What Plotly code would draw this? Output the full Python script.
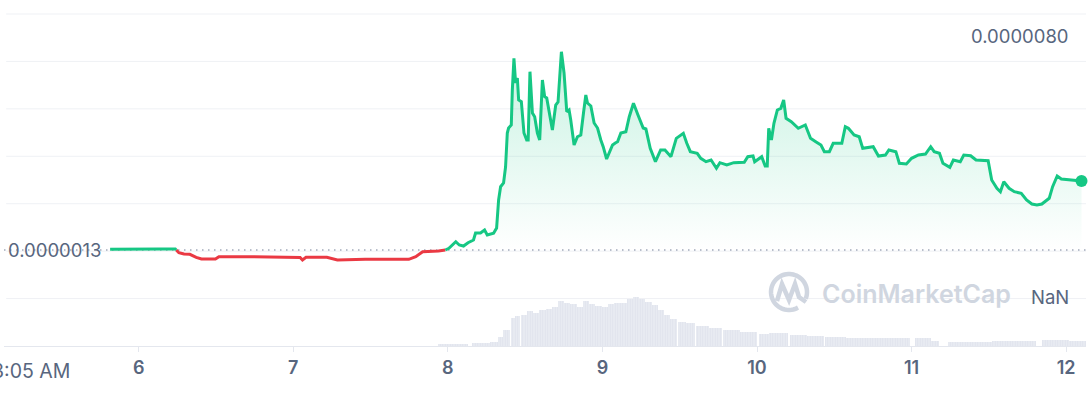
import numpy as np
import pandas as pd
import plotly.graph_objects as go

# ---------------- data ----------------
START = pd.Timestamp("2024-03-05 00:00")          # day "5", midnight
RANGE_HOURS = [3 + 5 / 60, 171 + 5 / 60]         # 3:05 AM on the 5th -> 3:05 AM on the 12th

price_hours = [
    19.56, 24.16, 25.71, 27.27, 29.68, 30.23, 31.03, 31.94, 32.93, 33.74,
    35.91, 36.45, 40.23, 45.63, 49.06, 49.43, 49.98, 53.21, 54.85, 59.17,
    61.87, 65.93, 67.02, 68.09, 70.54, 71.61, 72.16, 73.23, 73.77, 74.43,
    75.13, 75.98, 76.30, 77.07, 77.70, 78.12, 79.10, 79.57, 79.88, 80.19,
    80.65, 80.96, 81.23, 81.43, 81.85, 82.01, 82.26, 82.52, 82.79, 82.99,
    83.41, 83.82, 84.24, 84.47, 84.75, 85.13, 85.48, 85.90, 86.26, 86.68,
    87.03, 87.35, 87.70, 88.23, 88.75, 89.11, 89.63, 90.04, 90.46, 90.82,
    91.08, 91.60, 92.12, 92.64, 93.06, 93.42, 93.68, 94.20, 94.71, 95.24,
    95.75, 96.12, 96.65, 97.04, 97.57, 98.00, 98.35, 98.86, 99.64, 100.17,
    100.82, 101.52, 102.33, 102.75, 103.42, 104.23, 105.04, 105.71, 106.64, 107.47,
    108.56, 109.10, 109.65, 110.72, 111.27, 112.08, 112.87, 113.70, 114.24, 115.31,
    116.40, 118.02, 118.57, 119.38, 119.64, 120.73, 121.27, 121.59, 121.82, 122.24,
    122.63, 123.16, 123.70, 124.14, 124.51, 125.32, 126.41, 127.50, 128.31, 129.12,
    129.93, 130.46, 131.24, 131.83, 133.17, 133.71, 134.19, 135.07, 135.87, 136.42,
    138.04, 138.86, 139.94, 140.48, 141.56, 142.10, 143.19, 144.00, 145.07, 146.16,
    146.97, 147.51, 148.33, 148.87, 149.94, 150.49, 151.56, 152.11, 153.18, 154.01,
    155.89, 156.44, 157.25, 157.79, 158.32, 159.14, 159.95, 161.03, 161.85, 162.68,
    163.46, 164.23, 165.09, 165.37, 165.90, 166.61, 167.25, 168.89, 170.39,
]

# price in millionths of a dollar (x 1e-6 USD)
price_micro = [
    1.324, 1.334, 1.351, 1.334, 1.334, 1.209, 1.165, 1.155, 1.053, 0.996,
    0.996, 1.074, 1.074, 1.053, 1.047, 0.962, 1.053, 1.053, 0.962, 0.986,
    0.986, 0.986, 1.074, 1.243, 1.266, 1.300, 1.357, 1.580, 1.469, 1.435,
    1.547, 1.638, 1.874, 1.874, 1.976, 1.807, 1.864, 2.043, 2.990, 3.439,
    3.564, 4.105, 5.253, 5.422, 5.524, 6.706, 7.778, 6.943, 7.112, 6.369,
    6.311, 5.253, 5.017, 5.017, 7.325, 5.929, 5.804, 5.253, 5.017, 7.044,
    6.480, 6.436, 6.031, 5.355, 6.200, 6.301, 8.000, 7.281, 5.973, 6.031,
    5.693, 4.848, 5.128, 5.186, 5.929, 6.537, 6.267, 6.166, 5.591, 5.422,
    5.017, 4.790, 4.375, 4.578, 4.848, 4.916, 4.960, 5.253, 5.297, 5.804,
    6.257, 5.862, 5.422, 5.389, 4.736, 4.284, 4.679, 4.679, 4.453, 5.074,
    5.243, 4.905, 4.622, 4.568, 4.399, 4.284, 4.341, 4.061, 4.250, 4.172,
    4.250, 4.263, 4.453, 4.476, 4.284, 4.453, 4.138, 4.138, 5.412, 5.017,
    5.581, 6.031, 6.088, 6.369, 5.750, 5.635, 5.412, 5.524, 5.074, 4.960,
    4.848, 4.622, 4.622, 4.905, 4.905, 5.466, 5.412, 5.186, 5.128, 4.736,
    4.790, 4.476, 4.510, 4.679, 4.622, 4.230, 4.206, 4.399, 4.510, 4.544,
    4.790, 4.622, 4.568, 4.230, 4.094, 4.341, 4.284, 4.510, 4.486, 4.341,
    4.317, 3.665, 3.385, 3.270, 3.608, 3.385, 3.270, 3.216, 2.990, 2.854,
    2.821, 2.854, 2.990, 3.047, 3.439, 3.800, 3.699, 3.665, 3.632,
]

BASE_MICRO = 1.3                       # opening price, dotted reference line

volume_hours = [
    72.79, 77.31, 79.25, 80.19, 81.12, 82.15, 82.80, 83.77, 84.70, 85.71,
    86.68, 87.66, 88.59, 89.59, 90.55, 91.52, 92.48, 93.46, 94.43, 95.39,
    96.37, 97.34, 98.30, 99.27, 100.25, 101.20, 102.18, 103.16, 104.12, 105.09,
    106.05, 107.03, 108.32, 109.60, 111.55, 113.49, 116.08, 118.66, 121.24, 122.52,
    123.83, 126.41, 128.99, 132.23, 135.44, 138.69, 141.91, 145.79, 146.77, 151.61,
    154.83, 158.07, 161.28, 166.41, 169.68,
]
# relative volume (peak = 100)
volume_rel = [
    3.5, 5.5, 8.8, 19.1, 32.9, 56.9, 61.6, 63.7, 72.5, 68.4,
    73.9, 75.4, 80.7, 93.0, 88.9, 86.2, 80.7, 93.0, 86.2, 82.1,
    79.5, 86.2, 87.7, 88.9, 95.9, 100.0, 95.9, 91.0, 84.2, 73.9,
    63.7, 54.8, 49.9, 46.6, 41.1, 36.3, 32.9, 29.4, 24.6, 27.3,
    26.1, 22.6, 20.5, 17.9, 17.0, 17.0, 17.0, 15.8, 10.9, 8.8,
    8.8, 10.3, 10.9, 12.3, 10.9,
]

tick_days = [6, 7, 8, 9, 10, 11, 12]
tick_labels = ["6", "7", "8", "9", "10", "11", "12"]
start_label = "3:05 AM"
base_label = "0.0000013"
high_label = "0.0000080"
low_label = "NaN"
watermark = "CoinMarketCap"

# ---------------- styling ----------------
W, H = 1091, 399
ML, MR, MT, MB = 4, 5, 14, 53
PW, PH = W - ML - MR, H - MT - MB
GREEN = "#16c784"
RED = "#ea3943"
TXT = "#58667e"
GRID = "#eff1f5"
WM = "#d0d6e0"
FONT = "Inter"

PRICE_RANGE = [-1.944e-6, 9.275e-6]
VOL_RANGE = [0, 682]


def to_time(hours):
    return START + pd.to_timedelta(np.asarray(hours, dtype=float), unit="h")


def px_x(px):
    return (px - ML) / PW


def px_y(py):
    return (H - MB - py) / PH


# split price line into above/below the opening price
X, Y = [], []
for i, (h, p) in enumerate(zip(price_hours, price_micro)):
    if i > 0:
        h0, p0 = price_hours[i - 1], price_micro[i - 1]
        if (p0 - BASE_MICRO) * (p - BASE_MICRO) < 0:
            f = (BASE_MICRO - p0) / (p - p0)
            X.append(h0 + f * (h - h0))
            Y.append(BASE_MICRO)
    X.append(h)
    Y.append(p)
X = np.array(X)
Y = np.array(Y)
T = to_time(X)
scale = 1e-6
base = BASE_MICRO * scale
y_green = [v * scale if v >= BASE_MICRO - 1e-9 else None for v in Y]
y_red = [v * scale if v <= BASE_MICRO + 1e-9 else None for v in Y]
y_up = np.maximum(Y, BASE_MICRO) * scale

fig = go.Figure()

# volume bars
vt = np.asarray(volume_hours, dtype=float)
gaps = np.diff(vt)
widths_h = np.concatenate([[gaps[0]], (gaps[:-1] + gaps[1:]) / 2, [gaps[-1]]])
fig.add_trace(go.Bar(
    x=to_time(vt), y=volume_rel, yaxis="y2",
    width=widths_h * 3600 * 1000,
    marker=dict(color="#e6e8f0", line=dict(width=0),
                pattern=dict(shape="|", fgcolor="#d3d7e4", bgcolor="#eceef4",
                             size=2.5, solidity=0.55)),
    hoverinfo="skip", showlegend=False,
))

# green fill between price and opening price
fig.add_trace(go.Scatter(x=T, y=[base] * len(T), mode="lines", line=dict(width=0),
                         hoverinfo="skip", showlegend=False))
fig.add_trace(go.Scatter(x=T, y=y_up, mode="lines", line=dict(width=0), fill="tonexty",
                         fillgradient=dict(type="vertical",
                                           colorscale=[[0, "rgba(22,199,132,0.0)"],
                                                       [1, "rgba(22,199,132,0.24)"]]),
                         hoverinfo="skip", showlegend=False))

# lines
fig.add_trace(go.Scatter(x=T, y=y_red, mode="lines", line=dict(color=RED, width=3),
                         connectgaps=False, hoverinfo="skip", showlegend=False))
fig.add_trace(go.Scatter(x=T, y=y_green, mode="lines", line=dict(color=GREEN, width=3),
                         connectgaps=False, hoverinfo="skip", showlegend=False))
fig.add_trace(go.Scatter(x=[T[-1]], y=[Y[-1] * scale], mode="markers",
                         marker=dict(color=GREEN, size=12), hoverinfo="skip",
                         cliponaxis=False, showlegend=False))

# grid lines
shapes = []
for i in range(1, 8):
    shapes.append(dict(type="line", xref="paper", yref="paper", x0=0.002, x1=1,
                       y0=i / 7, y1=i / 7, line=dict(color=GRID, width=1), layer="below"))
shapes.append(dict(type="line", xref="paper", yref="y", x0=0, x1=1, y0=base, y1=base,
                   line=dict(color="#a3aabb", width=1.5, dash="1.5px,4.5px"), layer="below"))

# watermark logo: open circle + "M" wave
cx, cy, r = 789, 292, 18
ang = np.radians(np.linspace(-22, 300, 60))
arc = [(cx + r * np.cos(a), cy - r * np.sin(a)) for a in ang]
path = "M " + " L ".join(f"{px_x(a):.5f},{px_y(b):.5f}" for a, b in arc)
shapes.append(dict(type="path", xref="paper", yref="paper", path=path,
                   line=dict(color=WM, width=4.5), layer="below"))
mpts = [(777, 301), (782, 284), (789, 300), (795, 284), (799, 297), (806, 302)]
mpath = "M " + " L ".join(f"{px_x(a):.5f},{px_y(b):.5f}" for a, b in mpts)
shapes.append(dict(type="path", xref="paper", yref="paper", path=mpath,
                   line=dict(color=WM, width=4.5), layer="below"))

annotations = [
    dict(text=base_label, xref="paper", yref="y", x=px_x(6), y=base, xanchor="left",
         yanchor="middle", showarrow=False, font=dict(family=FONT, size=18.5, color=TXT)),
    dict(text=high_label, xref="paper", yref="paper", x=px_x(1071), y=px_y(36),
         xanchor="right", yanchor="middle", showarrow=False,
         font=dict(family=FONT, size=18.5, color=TXT)),
    dict(text=low_label, xref="paper", yref="paper", x=px_x(1071), y=px_y(297),
         xanchor="right", yanchor="middle", showarrow=False,
         font=dict(family=FONT, size=18.5, color=TXT)),
    dict(text=start_label, xref="paper", yref="paper", x=px_x(72), y=px_y(371),
         xanchor="right", yanchor="middle", showarrow=False,
         font=dict(family=FONT, size=19.5, color=TXT)),
    dict(text=watermark, xref="paper", yref="paper", x=px_x(820), y=px_y(294),
         xanchor="left", yanchor="middle", showarrow=False,
         font=dict(family=FONT, size=25, color=WM, weight=600)),
]

fig.update_layout(
    width=W, height=H, margin=dict(l=ML, r=MR, t=MT, b=MB),
    paper_bgcolor="white", plot_bgcolor="white",
    showlegend=False, bargap=0,
    xaxis=dict(type="date", range=list(to_time(RANGE_HOURS)),
               tickvals=list(to_time([(d - 5) * 24 for d in tick_days])),
               ticktext=tick_labels, showgrid=False, zeroline=False,
               showline=True, linecolor="#e4e7ee", linewidth=1,
               ticks="outside", ticklen=5, tickcolor="#e4e7ee",
               tickfont=dict(family=FONT, size=18, color=TXT, weight=600)),
    yaxis=dict(range=PRICE_RANGE, visible=False, showgrid=False, zeroline=False),
    yaxis2=dict(range=VOL_RANGE, overlaying="y", visible=False, showgrid=False,
                zeroline=False),
    shapes=shapes, annotations=annotations,
)

fig.write_html("out.html",
               config={"displayModeBar": False},
               post_script="document.body.style.margin='0px';"
                           "document.body.style.overflow='hidden';")
